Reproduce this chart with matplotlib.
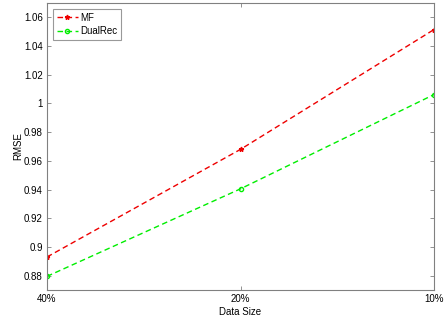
import matplotlib
matplotlib.use("Agg")
import matplotlib.pyplot as plt

plt.rcParams['font.family'] = ['Liberation Sans', 'DejaVu Sans']

categories = ["40%", "20%", "10%"]
mf = [0.8930, 0.9680, 1.0515]
dualrec = [0.8795, 0.9405, 1.0062]
yticks = [0.88, 0.9, 0.92, 0.94, 0.96, 0.98, 1.0, 1.02, 1.04, 1.06]
yticklabels = ["0.88", "0.9", "0.92", "0.94", "0.96", "0.98", "1", "1.02", "1.04", "1.06"]

fig = plt.figure(figsize=(4.44, 3.2), dpi=100)
ax = fig.add_axes([47/444, 1-290/320, (434-47)/444, (290-3)/320])

x = list(range(len(categories)))
ax.plot(x, mf, color='#ee0000', linestyle='--', linewidth=1.0, marker='*',
        markersize=3.5, dashes=(4, 2.5), label='MF')
ax.plot(x, dualrec, color='#00ee00', linestyle='--', linewidth=1.0, marker='o',
        markersize=3, markerfacecolor='none', dashes=(4, 2.5), label='DualRec')

ax.set_xlim(0, 2)
ax.set_ylim(0.87, 1.07)
ax.set_xticks(x)
ax.set_xticklabels(categories)
ax.set_yticks(yticks)
ax.set_yticklabels(yticklabels)
ax.tick_params(direction='in', length=3, width=0.6, colors='#808080',
               labelcolor='black', labelsize=7, top=True, right=True, pad=3)
for s in ax.spines.values():
    s.set_color('#808080')
    s.set_linewidth(0.8)
ax.set_xlabel('Data Size', fontsize=7, labelpad=2)
ax.set_ylabel('RMSE', fontsize=7, labelpad=3)
ax.yaxis.set_label_coords(-0.062, 0.5)

leg = ax.legend(loc='upper left', fontsize=7, frameon=True, fancybox=False,
                edgecolor='#808080', handlelength=2.2, handletextpad=0.2,
                borderpad=0.4, labelspacing=0.35, borderaxespad=0.6)
leg.get_frame().set_linewidth(0.8)

fig.savefig('out.png', dpi=100)
